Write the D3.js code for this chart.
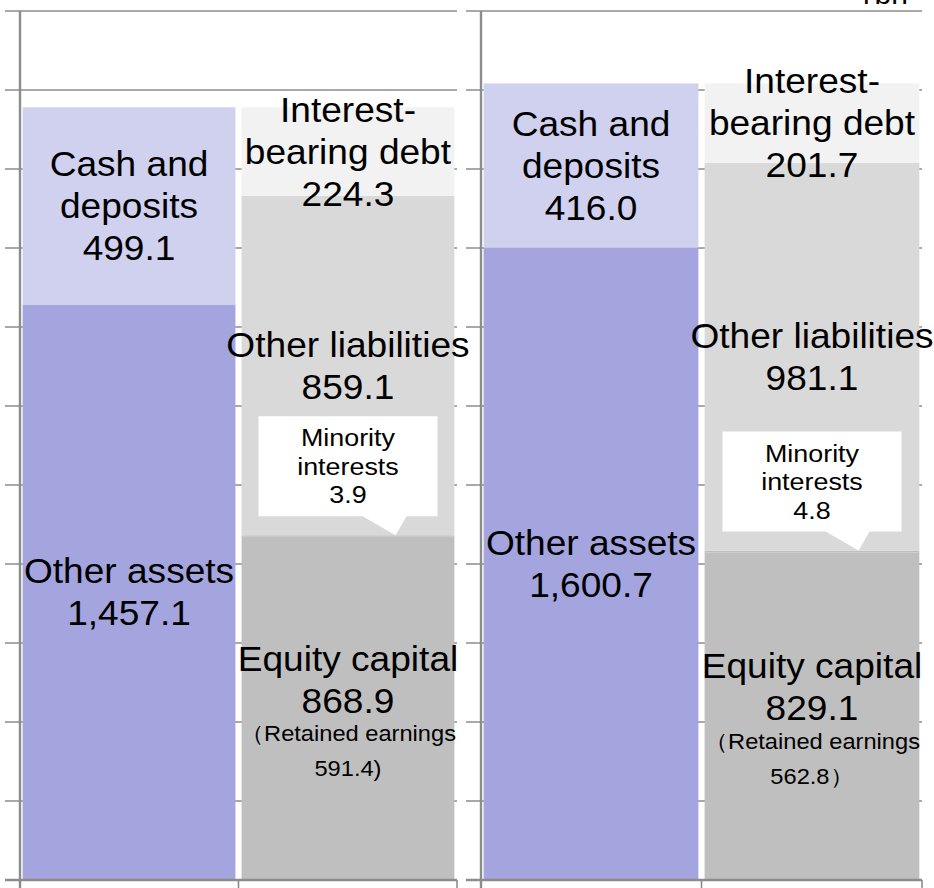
<!DOCTYPE html>
<html>
<head>
<meta charset="utf-8">
<script src="https://cdn.jsdelivr.net/npm/d3@7"></script>
<style>
  html, body { margin: 0; padding: 0; background: #fff; }
  svg { display: block; font-family: "Liberation Sans", Arial, sans-serif; }
</style>
</head>
<body>
<div id="chart"></div>
<script>
// Balance sheet comparison: assets vs liabilities & net assets, two periods
const periods = ["prev", "curr"];
const columns = ["Assets", "Liabilities and net assets"];
const cashDeposits = [499.1, 416.0];
const otherAssets = [1457.1, 1600.7];
const interestDebt = [224.3, 201.7];
const otherLiabilities = [859.1, 981.1];
const minorityInterests = [3.9, 4.8];
const equityCapital = [868.9, 829.1];
const retainedEarnings = [591.4, 562.8];
const unitLabel = "¥bn";

(() => {
    const W = 934, H = 888;
    const svg = d3.select("#chart").append("svg").attr("width", W).attr("height", H);

    const y = d3.scaleLinear().domain([0, 2200]).range([880, 11]);
    const fmt = d3.format(",.1f");
    const grid = "#8c8c8c";

    const panelX = [[20, 457], [481, 922]];

    // segment colours
    const col = {
        otherAssets: "#a4a4de", cash: "#d0d0ef",
        equity: "#bfbfbf", minority: "#bfbfbf", otherLiab: "#d9d9d9", debt: "#f2f2f2"
    };

    const multi = (g, x, cy, lines, size, gap, sx) => {
        const t = g.append("g").attr("transform", `translate(${x},${cy}) scale(${sx},1)`);
        const n = lines.length;
        lines.forEach((s, i) => {
            t.append("text")
                .attr("x", 0).attr("y", (i - (n - 1) / 2) * gap)
                .attr("text-anchor", "middle").attr("dominant-baseline", "central")
                .attr("font-size", size).attr("fill", "#000").text(s);
        });
        return t;
    };

    periods.forEach((p, i) => {
        const [x0, x1] = panelX[i];
        const g = svg.append("g");
        const x = d3.scaleBand().domain(columns).range([x0, x1]).paddingInner(0.028).paddingOuter(0.012);

        // gridlines with tick stubs left of the axis
        g.selectAll("line.grid")
            .data(y.ticks(11).filter(d => d > 0))
            .join("line")
            .attr("x1", x0 - 15).attr("x2", x1)
            .attr("y1", d => y(d)).attr("y2", d => y(d))
            .attr("stroke", grid).attr("stroke-width", 1.6);

        // stacks
        const assets = [
            { k: "otherAssets", v: otherAssets[i] },
            { k: "cash", v: cashDeposits[i] }
        ];
        const liab = [
            { k: "equity", v: equityCapital[i] },
            { k: "minority", v: minorityInterests[i] },
            { k: "otherLiab", v: otherLiabilities[i] },
            { k: "debt", v: interestDebt[i] }
        ];
        const stackUp = arr => {
            let acc = 0;
            return arr.map(d => { const s = { ...d, y0: acc, y1: acc + d.v }; acc += d.v; return s; });
        };
        const sa = stackUp(assets), sl = stackUp(liab);

        const drawCol = (segs, c) => {
            g.selectAll(null)
                .data(segs)
                .join("rect")
                .attr("x", x(c)).attr("width", x.bandwidth())
                .attr("y", d => y(d.y1))
                .attr("height", d => y(d.y0) - y(d.y1))
                .attr("fill", d => col[d.k]);
        };
        drawCol(sa, columns[0]);
        drawCol(sl, columns[1]);

        // axes
        g.append("line").attr("x1", x0).attr("x2", x0).attr("y1", y(2200)).attr("y2", 888)
            .attr("stroke", grid).attr("stroke-width", 2.4);
        g.append("line").attr("x1", x0 - 15).attr("x2", x1).attr("y1", y(0)).attr("y2", y(0))
            .attr("stroke", grid).attr("stroke-width", 2.4);
        g.selectAll("line.xt")
            .data([x0, (x(columns[1]) + x(columns[0]) + x.bandwidth()) / 2, x1])
            .join("line")
            .attr("x1", d => d).attr("x2", d => d).attr("y1", y(0)).attr("y2", 888)
            .attr("stroke", grid).attr("stroke-width", 1.6);

        const cA = x(columns[0]) + x.bandwidth() / 2;
        const cL = x(columns[1]) + x.bandwidth() / 2;
        const mid = s => (y(s.y0) + y(s.y1)) / 2;

        multi(g, cA, mid(sa[1]), ["Cash and", "deposits", fmt(cashDeposits[i])], 35, 42, 1.06);
        multi(g, cA, mid(sa[0]), ["Other assets", fmt(otherAssets[i])], 35, 42, 1.06);
        multi(g, cL, mid(sl[3]), ["Interest-", "bearing debt", fmt(interestDebt[i])], 35, 42, 1.06);
        multi(g, cL, mid(sl[2]), ["Other liabilities", fmt(otherLiabilities[i])], 35, 42, 1.06);

        // equity block: two big lines and two small lines
        const eMid = mid(sl[0]);
        multi(g, cL, eMid - 29, ["Equity capital", fmt(equityCapital[i])], 35, 42, 1.06);
        multi(g, cL, eMid + 43, ["（Retained earnings", fmt(retainedEarnings[i]) + (i === 0 ? ")" : "）")], 21.5, 35, 1.1);

        // minority interests callout
        const bx = x(columns[1]);
        const tipY = y(sl[1].y1);
        const boxB = tipY - 19, boxT = boxB - 100;
        const boxL = cL - 89.5, boxR = cL + 89.5;
        g.append("path")
            .attr("d", `M${boxL},${boxT}H${boxR}V${boxB}H${bx + 165}L${bx + 154},${tipY}L${bx + 121},${boxB}H${boxL}Z`)
            .attr("fill", "#fff");
        multi(g, cL, boxT + 50, ["Minority", "interests", fmt(minorityInterests[i])], 24, 28.5, 1.12);
    });

    // unit label, clipped by the top edge as in the original
    svg.append("text").attr("x", 908).attr("y", 4).attr("text-anchor", "end")
        .attr("font-size", 30).attr("fill", "#000").text(unitLabel);
})();
</script>
</body>
</html>
